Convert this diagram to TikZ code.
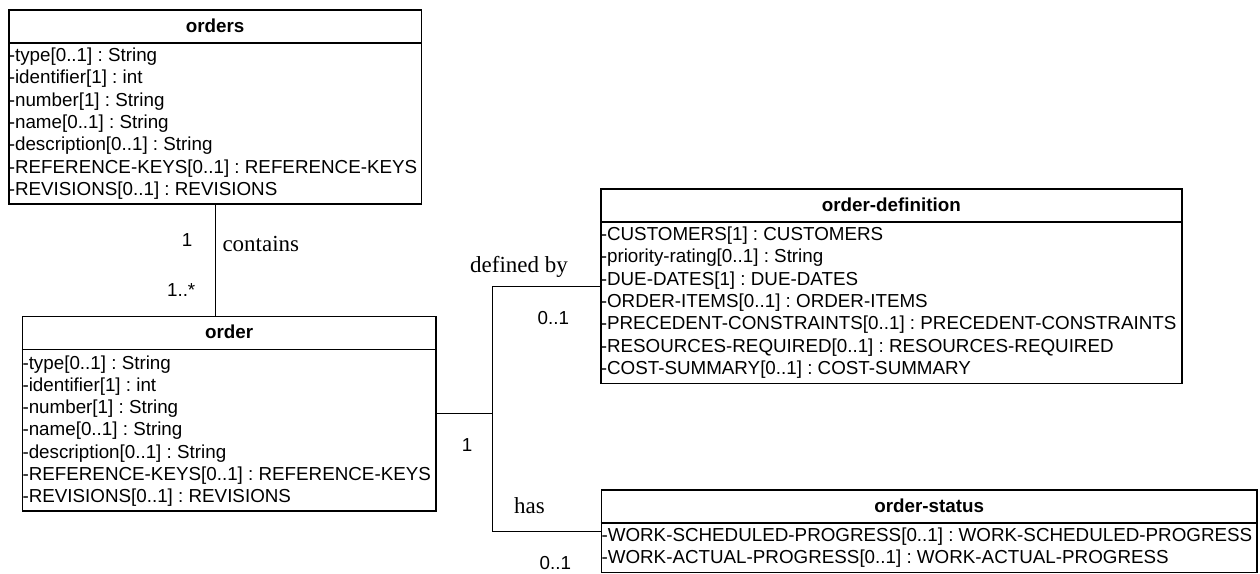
\documentclass[tikz,border=0pt]{standalone}
\usepackage{fontspec}
\setmainfont{Liberation Sans}
\newfontfamily\relfont{Liberation Serif}
\tikzset{
  classbox/.style={draw, line width=1.6pt, inner sep=0pt, anchor=north west},
  hline/.style={line width=1.6pt},
  ctitle/.style={font=\bfseries\fontsize{18.8}{22}\selectfont, inner sep=0pt, anchor=base},
  attr/.style={font=\frenchspacing\fontsize{18.8}{22}\selectfont, inner sep=0pt, anchor=base west},
  mult/.style={font=\fontsize{18.8}{22}\selectfont, inner sep=0pt},
  rel/.style={font=\relfont\fontsize{23}{26}\selectfont, inner sep=0pt, anchor=base west},
  conn/.style={line width=1.3pt},
}
\newcommand\umlattrs[4]{%
  \foreach \a [count=\i from 0, evaluate=\i as \dy using {#2+#3*\i}] in {#4}
    \node[attr] (#1-a\i) at ([xshift=0.6pt,yshift=-\dy pt]#1.north west) {\a};
}
\begin{document}
\frenchspacing
\begin{tikzpicture}[x=1pt,y=-1pt]
\useasboundingbox (0,0) rectangle (1260,573);

% orders
\node[classbox, minimum width=412.7pt, minimum height=194pt] (orders) at (8,9.3) {};
\draw[hline] ([yshift=-33.4pt]orders.north west) -- ([yshift=-33.4pt]orders.north east);
\node[ctitle] (orders-t) at ([yshift=-23pt]orders.north) {orders};
\umlattrs{orders}{52.4}{22.28}{{-type[0..1] : String},{-identifier[1] : int},{-number[1] : String},{-name[0..1] : String},{-description[0..1] : String},{-REFERENCE-KEYS[0..1] : REFERENCE-KEYS},{-REVISIONS[0..1] : REVISIONS}}

% order
\node[classbox, minimum width=413.3pt, minimum height=194.3pt] (order) at (21.7,315.7) {};
\draw[hline] ([yshift=-33.8pt]order.north west) -- ([yshift=-33.8pt]order.north east);
\node[ctitle] (order-t) at ([yshift=-22.6pt]order.north) {order};
\umlattrs{order}{53.3}{22.28}{{-type[0..1] : String},{-identifier[1] : int},{-number[1] : String},{-name[0..1] : String},{-description[0..1] : String},{-REFERENCE-KEYS[0..1] : REFERENCE-KEYS},{-REVISIONS[0..1] : REVISIONS}}

% order-definition
\node[classbox, minimum width=581pt, minimum height=194.4pt] (orderdef) at (600,188.3) {};
\draw[hline] ([yshift=-33.4pt]orderdef.north west) -- ([yshift=-33.4pt]orderdef.north east);
\node[ctitle] (orderdef-t) at ([yshift=-22.7pt]orderdef.north) {order-definition};
\umlattrs{orderdef}{52.4}{22.28}{{-CUSTOMERS[1] : CUSTOMERS},{-priority-rating[0..1] : String},{-DUE-DATES[1] : DUE-DATES},{-ORDER-ITEMS[0..1] : ORDER-ITEMS},{-PRECEDENT-CONSTRAINTS[0..1] : PRECEDENT-CONSTRAINTS},{-RESOURCES-REQUIRED[0..1] : RESOURCES-REQUIRED},{-COST-SUMMARY[0..1] : COST-SUMMARY}}

% order-status
\node[classbox, minimum width=655.3pt, minimum height=82.7pt] (orderstatus) at (600.7,489) {};
\draw[hline] ([yshift=-33.7pt]orderstatus.north west) -- ([yshift=-33.7pt]orderstatus.north east);
\node[ctitle] (orderstatus-t) at ([yshift=-23.5pt]orderstatus.north) {order-status};
\umlattrs{orderstatus}{52.3}{22}{{-WORK-SCHEDULED-PROGRESS[0..1] : WORK-SCHEDULED-PROGRESS},{-WORK-ACTUAL-PROGRESS[0..1] : WORK-ACTUAL-PROGRESS}}

% connectors
\draw[conn] (orders.south) -- (orders.south |- order.north);
\coordinate (j) at (492.7,0 |- order.east);
\draw[conn] (order.east) -- (j) |- (orderdef.west);
\draw[conn] (j) |- (orderstatus.west);

% labels
\node[mult, anchor=base east] (m1) at (192.5,246.7) {1};
\node[mult, anchor=base east] (m2) at (195.5,296) {1..*};
\node[rel] (l1) at (222.3,251) {contains};
\node[rel] (l2) at (470,272.5) {defined by};
\node[mult, anchor=base west] (m3) at (537.5,324) {0..1};
\node[mult, anchor=base east] (m4) at (472.5,451) {1};
\node[rel] (l3) at (514,513) {has};
\node[mult, anchor=base west] (m5) at (539.5,569.3) {0..1};
\end{tikzpicture}
\end{document}
